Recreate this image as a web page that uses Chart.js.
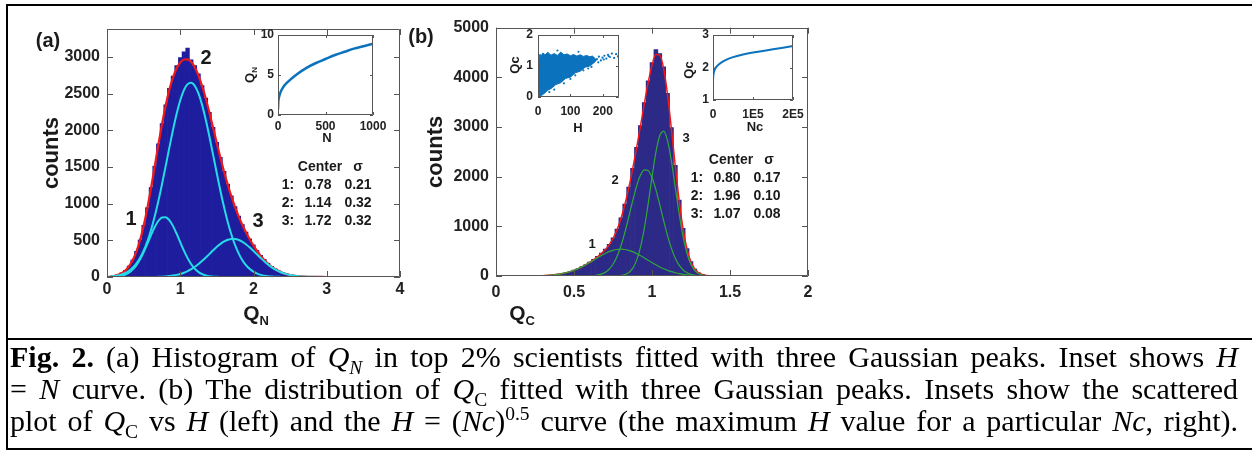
<!DOCTYPE html>
<html>
<head>
<meta charset="utf-8">
<script src="https://cdn.jsdelivr.net/npm/chart.js@4.4.1/dist/chart.umd.min.js"></script>
<style>
  body { margin: 0; background: #fff; }
  #page { position: relative; width: 1252px; height: 451px; overflow: hidden; background: #fff;
          font-family: "Liberation Sans", Arial, sans-serif; color: #1a1a1a; }
  canvas.layer { position: absolute; left: 0; top: 0; }
  .t { position: absolute; transform: translate(-50%, -50%); font-weight: bold; white-space: nowrap; line-height: 1; }
  .rot { transform: translate(-50%, -50%) rotate(-90deg); }
  .sb { font-size: 0.62em; position: relative; top: 0.35em; }
  .rule { position: absolute; background: #000; }
  .cap { position: absolute; left: 10px; width: 1228px; height: 32px; white-space: nowrap;
         font-family: "Liberation Serif", "Times New Roman", serif; font-size: 30px; line-height: 32px;
         text-align: justify; text-align-last: justify; color: #000; }
  .cap sub, .cap sup { font-size: 0.65em; line-height: 0; }
</style>
</head>
<body>
<div id="page">
  <canvas id="mainA" class="layer" width="1252" height="338"></canvas>
  <canvas id="mainB" class="layer" width="1252" height="338"></canvas>
  <canvas id="insetA" class="layer" width="1252" height="338"></canvas>
  <canvas id="insetB1" class="layer" width="1252" height="338"></canvas>
  <canvas id="insetB2" class="layer" width="1252" height="338"></canvas>

  <!-- panel letters -->
  <div class="t" style="left:48px;top:40px;font-size:20px;">(a)</div>
  <div class="t" style="left:421px;top:36px;font-size:20px;">(b)</div>

  <!-- peak numbers -->
  <div class="t" style="left:131px;top:218px;font-size:20px;">1</div>
  <div class="t" style="left:206px;top:57px;font-size:20px;">2</div>
  <div class="t" style="left:258px;top:220px;font-size:20px;">3</div>
  <div class="t" style="left:592px;top:243px;font-size:13px;">1</div>
  <div class="t" style="left:615px;top:179px;font-size:13px;">2</div>
  <div class="t" style="left:686px;top:137px;font-size:13px;">3</div>

  <!-- fit tables -->
  <div class="t" style="left:320px;top:166px;font-size:14px;">Center</div>
  <div class="t" style="left:358px;top:166px;font-size:14px;">σ</div>
  <div class="t" style="left:288px;top:184px;font-size:14px;">1:</div>
  <div class="t" style="left:318px;top:184px;font-size:14px;">0.78</div>
  <div class="t" style="left:358px;top:184px;font-size:14px;">0.21</div>
  <div class="t" style="left:288px;top:202px;font-size:14px;">2:</div>
  <div class="t" style="left:318px;top:202px;font-size:14px;">1.14</div>
  <div class="t" style="left:358px;top:202px;font-size:14px;">0.32</div>
  <div class="t" style="left:288px;top:220px;font-size:14px;">3:</div>
  <div class="t" style="left:318px;top:220px;font-size:14px;">1.72</div>
  <div class="t" style="left:358px;top:220px;font-size:14px;">0.32</div>

  <div class="t" style="left:731px;top:159px;font-size:14px;">Center</div>
  <div class="t" style="left:769px;top:159px;font-size:14px;">σ</div>
  <div class="t" style="left:697px;top:177px;font-size:14px;">1:</div>
  <div class="t" style="left:727px;top:177px;font-size:14px;">0.80</div>
  <div class="t" style="left:767px;top:177px;font-size:14px;">0.17</div>
  <div class="t" style="left:697px;top:195px;font-size:14px;">2:</div>
  <div class="t" style="left:727px;top:195px;font-size:14px;">1.96</div>
  <div class="t" style="left:767px;top:195px;font-size:14px;">0.10</div>
  <div class="t" style="left:697px;top:213px;font-size:14px;">3:</div>
  <div class="t" style="left:727px;top:213px;font-size:14px;">1.07</div>
  <div class="t" style="left:767px;top:213px;font-size:14px;">0.08</div>

  <!-- axis titles with subscripts -->
  <div class="t" style="left:256px;top:312px;font-size:21px;">Q<span class="sb">N</span></div>
  <div class="t" style="left:522px;top:312px;font-size:21px;">Q<span class="sb">C</span></div>
  <div class="t" style="left:327px;top:137px;font-size:13px;">N</div>
  <div class="t rot" style="left:250px;top:75px;font-size:13px;">Q<span class="sb">N</span></div>
  <div class="t" style="left:578px;top:127px;font-size:13px;">H</div>
  <div class="t rot" style="left:514px;top:65px;font-size:13px;">Qc</div>
  <div class="t" style="left:755px;top:126px;font-size:13px;">Nc</div>
  <div class="t rot" style="left:688px;top:70px;font-size:13px;">Qc</div>

  <!-- frame rules -->
  <div class="rule" style="left:6px;top:4px;width:1246px;height:2px;"></div>
  <div class="rule" style="left:6px;top:4px;width:2px;height:446px;"></div>
  <div class="rule" style="left:6px;top:338px;width:1246px;height:2px;"></div>
  <div class="rule" style="left:6px;top:448px;width:1246px;height:2px;"></div>

  <!-- caption -->
  <div class="cap" style="top:341px;"><b>Fig. 2.</b> (a) Histogram of <i>Q<sub>N</sub></i> in top 2% scientists fitted with three Gaussian peaks. Inset shows <i>H</i></div>
  <div class="cap" style="top:373px;">= <i>N</i> curve. (b) The distribution of <i>Q</i><sub>C</sub> fitted with three Gaussian peaks. Insets show the scattered</div>
  <div class="cap" style="top:405px;">plot of <i>Q</i><sub>C</sub> vs <i>H</i> (left) and the <i>H</i> = (<i>Nc</i>)<sup>0.5</sup> curve (the maximum <i>H</i> value for a particular <i>Nc</i>, right).</div>
</div>

<script>
// ---- panel (a): histogram of Q_N ----
const qnBins = [0.05, 0.10, 0.15, 0.20, 0.25, 0.30, 0.35, 0.40, 0.45, 0.50, 0.55, 0.60, 0.65, 0.70, 0.75, 0.80,
  0.85, 0.90, 0.95, 1.00, 1.05, 1.10, 1.15, 1.20, 1.25, 1.30, 1.35, 1.40, 1.45, 1.50, 1.55, 1.60, 1.65, 1.70,
  1.75, 1.80, 1.85, 1.90, 1.95, 2.00, 2.05, 2.10, 2.15, 2.20, 2.25, 2.30, 2.35, 2.40, 2.45, 2.50, 2.55, 2.60,
  2.65, 2.70, 2.75, 2.80, 2.90, 3.00];
const qnCounts = [12, 19, 33, 57, 92, 150, 232, 350, 505, 705, 945, 1220, 1510, 1815, 2090, 2345,
  2570, 2740, 2880, 2990, 3070, 3120, 2960, 2880, 2770, 2610, 2440, 2245, 2040, 1835, 1630, 1440, 1265, 1105,
  960, 830, 715, 612, 520, 438, 362, 295, 238, 188, 145, 110, 82, 60, 43, 30, 20, 14,
  9, 6, 4, 3, 2, 1];

// fitted curves, read at these Q_N positions
const qnFitX = [0.05, 0.10, 0.15, 0.20, 0.25, 0.30, 0.35, 0.40, 0.45, 0.50, 0.55, 0.60, 0.65, 0.70, 0.75, 0.80,
  0.85, 0.90, 0.95, 1.00, 1.05, 1.10, 1.15, 1.20, 1.25, 1.30, 1.35, 1.40, 1.45, 1.50, 1.55, 1.60, 1.65, 1.70,
  1.75, 1.80, 1.85, 1.90, 1.95, 2.00, 2.05, 2.10, 2.15, 2.20, 2.25, 2.30, 2.35, 2.40, 2.45, 2.50, 2.55, 2.60,
  2.65, 2.70, 2.75, 2.80, 2.90, 3.00, 3.35];
const qnPeak1 = [2, 4, 9, 18, 34, 60, 101, 159, 239, 337, 450, 568, 677, 763, 812, 816,
  776, 697, 591, 474, 359, 257, 174, 111, 67, 38, 21, 10, 5, 2, 1, 0, 0, 0,
  0, 0, 0, 0, 0, 0, 0, 0, 0, 0, 0, 0, 0, 0, 0, 0, 0, 0,
  0, 0, 0, 0, 0, 0, 0];
const qnPeak2 = [8, 13, 22, 35, 55, 85, 126, 183, 259, 359, 484, 638, 821, 1030, 1261, 1507,
  1758, 2000, 2222, 2408, 2547, 2629, 2649, 2604, 2498, 2339, 2137, 1905, 1658, 1407, 1166, 943, 744, 573,
  431, 316, 226, 158, 108, 72, 47, 29, 18, 11, 6, 4, 2, 1, 0, 0, 0, 0,
  0, 0, 0, 0, 0, 0, 0];
const qnPeak3 = [0, 0, 0, 0, 0, 0, 0, 0, 0, 0, 0, 0, 0, 3, 5, 8,
  13, 20, 29, 41, 58, 80, 106, 139, 177, 220, 267, 315, 364, 411, 452, 485, 508, 519,
  518, 504, 479, 444, 402, 355, 306, 257, 211, 169, 132, 101, 75, 54, 39, 27, 18, 12,
  8, 5, 3, 2, 1, 0, 0];
const qnFitSum = [10, 17, 31, 53, 89, 145, 227, 342, 498, 696, 934, 1206, 1498, 1796, 2078, 2331,
  2547, 2717, 2842, 2923, 2964, 2966, 2929, 2854, 2742, 2597, 2425, 2230, 2027, 1820, 1619, 1428, 1252, 1092,
  949, 820, 705, 602, 510, 427, 353, 286, 229, 180, 138, 105, 77, 55, 39, 27, 18, 12,
  8, 5, 3, 2, 1, 0, 0];
const qnTicks = [0, 1, 2, 3, 4];
const countTicksA = [0, 500, 1000, 1500, 2000, 2500, 3000];

// inset (a): Q_N against N
const insetN = [0, 3, 10, 25, 50, 100, 200, 300, 400, 500, 600, 700, 800, 900, 1000];
const insetQN = [0.7, 1.6, 2.2, 2.8, 3.4, 4.1, 5.1, 5.9, 6.5, 7.0, 7.5, 7.9, 8.3, 8.6, 8.9];
const nTicks = [0, 500, 1000];
const qnInsetTicks = [0, 5, 10];

// ---- panel (b): distribution of Q_C ----
const qcBins = [0.200, 0.225, 0.250, 0.275, 0.300, 0.325, 0.350, 0.375, 0.400, 0.425, 0.450, 0.475, 0.500,
  0.525, 0.550, 0.575, 0.600, 0.625, 0.650, 0.675, 0.700, 0.725, 0.750, 0.775, 0.800, 0.825, 0.850, 0.875,
  0.900, 0.925, 0.950, 0.975, 1.000, 1.025, 1.050, 1.075, 1.100, 1.125, 1.150, 1.175, 1.200, 1.225, 1.250,
  1.275, 1.300, 1.325, 1.350, 1.375, 1.400];
const qcCounts = [2, 3, 4, 6, 9, 13, 19, 27, 37, 50, 68, 90, 118,
  150, 188, 232, 280, 335, 395, 462, 540, 640, 770, 945, 1170, 1450, 1790, 2170,
  2590, 3030, 3490, 3930, 4300, 4560, 4480, 4210, 3680, 2990, 2230, 1530, 960, 550, 290,
  140, 64, 28, 11, 4, 1];

const qcFitX = [0, 0.1, 0.2, 0.3, 0.4, 0.5, 0.55, 0.6, 0.65, 0.7, 0.725, 0.75, 0.775, 0.8, 0.825, 0.85,
  0.875, 0.9, 0.925, 0.95, 0.975, 1.0, 1.025, 1.05, 1.075, 1.1, 1.125, 1.15, 1.175, 1.2, 1.225, 1.25,
  1.275, 1.3, 1.35, 1.4, 1.5, 1.55];
const qcPeak1 = [0, 0, 1, 7, 34, 114, 183, 270, 366, 454, 490, 517, 534, 540, 534, 517,
  490, 454, 412, 366, 318, 270, 225, 183, 146, 114, 87, 65, 47, 34, 24, 16,
  11, 7, 3, 1, 0, 0];
const qcPeak2 = [0, 0, 0, 0, 0, 0, 0, 3, 18, 73, 136, 237, 388, 598, 864, 1174,
  1498, 1796, 2022, 2139, 2126, 1985, 1741, 1434, 1110, 807, 551, 354, 213, 121, 64, 32,
  15, 7, 1, 0, 0, 0];
const qcPeak3 = [0, 0, 0, 0, 0, 0, 0, 0, 0, 0, 0, 1, 3, 10, 27, 67,
  150, 305, 565, 948, 1443, 1991, 2493, 2830, 2914, 2722, 2305, 1771, 1234, 780, 447, 232,
  110, 47, 6, 0, 0, 0];
const qcFitSum = [0, 0, 1, 7, 34, 114, 183, 273, 384, 527, 626, 755, 925, 1148, 1425, 1758,
  2138, 2555, 2999, 3453, 3887, 4246, 4459, 4447, 4170, 3643, 2943, 2190, 1494, 935, 535, 280,
  136, 61, 10, 1, 0, 0];
const qcTicks = [0, 0.5, 1, 1.5, 2];
const countTicksB = [0, 1000, 2000, 3000, 4000, 5000];

// inset (b, left): Q_C against H, dense cloud outline plus stray points
const cloudTopH = [1, 2, 3, 6, 10, 15, 22, 30, 40, 50, 60, 70, 80, 90, 100, 110, 120, 130, 140, 150, 160, 168, 175, 180];
const cloudTopQ = [0.1, 0.8, 1.25, 1.38, 1.33, 1.42, 1.36, 1.44, 1.35, 1.40, 1.34, 1.45, 1.36, 1.39, 1.33, 1.37,
  1.32, 1.36, 1.31, 1.34, 1.30, 1.32, 1.26, 1.18];
const cloudLowH = [1, 5, 12, 20, 30, 40, 55, 70, 85, 100, 115, 130, 145, 160, 172, 180];
const cloudLowQ = [0.1, 0.01, 0.06, 0.12, 0.22, 0.27, 0.40, 0.46, 0.60, 0.64, 0.78, 0.83, 0.96, 1.0, 1.1, 1.18];
const strayH = [182, 188, 194, 199, 205, 211, 216, 222, 228, 235, 241, 247, 250, 186, 203, 218, 60, 125, 100, 80,
  140, 155, 35, 50, 115, 165];
const strayQ = [1.22, 1.30, 1.18, 1.27, 1.33, 1.24, 1.36, 1.29, 1.40, 1.26, 1.38, 1.31, 1.20, 1.12, 1.21, 1.32,
  1.50, 1.46, 0.58, 0.44, 0.86, 0.92, 0.16, 0.24, 0.70, 0.97];
const hTicks = [0, 100, 200];
const qcInsetTicks = [0, 1, 2];

// inset (b, right): Q_C against Nc
const insetNc = [0, 0, 500, 2000, 6000, 15000, 30000, 50000, 75000, 100000, 150000, 200000];
const insetQc = [1.0, 1.55, 1.72, 1.85, 1.98, 2.10, 2.22, 2.32, 2.40, 2.46, 2.56, 2.66];
const ncTicks = [0, 100000, 200000];
const ncTickLabels = ['0', '1E5', '2E5'];
const qc2Ticks = [1, 2, 3];

// ---- drawing ----
const SANS = '"Liberation Sans", Arial, sans-serif';
const PAGE_W = 1252, LAYER_H = 338;
const NAVY_A = '#1d1d9e', NAVY_B = '#2c2a86', RED = '#f01818', CYAN = '#26dbe8', GREEN = '#2fa83a', MBLUE = '#0b72bd';

function toXY(xs, ys) {
  return xs.map((x, i) => ({ x: x, y: ys[i] }));
}

function makeScale(o) {
  return {
    type: 'linear',
    min: o.min,
    max: o.max,
    offset: false,
    grid: { display: false, drawTicks: false, offset: false },
    border: { display: false },
    afterBuildTicks: s => { s.ticks = o.ticks.map(v => ({ value: v })); },
    afterFit: s => { if (o.axis === 'x') s.height = o.fit; else s.width = o.fit; },
    ticks: {
      autoSkip: false, maxRotation: 0, minRotation: 0,
      padding: o.pad,
      color: '#222',
      font: { family: SANS, size: o.size, weight: 'bold' },
      callback: (v, i) => (o.labels ? o.labels[i] : String(v))
    },
    title: o.title
      ? { display: true, text: o.title, color: '#1a1a1a',
          font: { family: SANS, size: 22, weight: 'bold' }, padding: { top: o.titlePad, bottom: 0 } }
      : { display: false }
  };
}

// MATLAB style box with inward ticks on all four sides
function framePlugin(tickLen, whiteBg) {
  return {
    id: 'frame',
    beforeDraw(chart) {
      if (!whiteBg) return;
      const a = chart.chartArea, ctx = chart.ctx;
      ctx.save();
      ctx.fillStyle = '#fff';
      ctx.fillRect(a.left, a.top, a.right - a.left, a.bottom - a.top);
      ctx.restore();
    },
    afterDatasetsDraw(chart) {
      const a = chart.chartArea, ctx = chart.ctx, sx = chart.scales.x, sy = chart.scales.y;
      ctx.save();
      ctx.strokeStyle = '#555';
      ctx.lineWidth = 1;
      ctx.beginPath();
      ctx.rect(Math.round(a.left) + 0.5, Math.round(a.top) + 0.5,
        Math.round(a.right - a.left) - 1, Math.round(a.bottom - a.top) - 1);
      sx.ticks.forEach(t => {
        const p = Math.round(sx.getPixelForValue(t.value)) + 0.5;
        ctx.moveTo(p, a.bottom); ctx.lineTo(p, a.bottom - tickLen);
        ctx.moveTo(p, a.top); ctx.lineTo(p, a.top + tickLen);
      });
      sy.ticks.forEach(t => {
        const p = Math.round(sy.getPixelForValue(t.value)) + 0.5;
        ctx.moveTo(a.left, p); ctx.lineTo(a.left + tickLen, p);
        ctx.moveTo(a.right, p); ctx.lineTo(a.right - tickLen, p);
      });
      ctx.stroke();
      ctx.restore();
    }
  };
}

function baseOptions(box, yW, xH, scales) {
  return {
    responsive: false,
    animation: false,
    events: [],
    layout: { padding: { left: box.left - yW, top: box.top, right: PAGE_W - box.right, bottom: LAYER_H - box.bottom - xH } },
    plugins: { legend: { display: false }, tooltip: { enabled: false } },
    scales: scales
  };
}

function curve(xs, ys, color, width, order) {
  return { type: 'line', data: toXY(xs, ys), borderColor: color, borderWidth: width, pointRadius: 0,
           fill: false, cubicInterpolationMode: 'monotone', order: order };
}

// panel (a)
const boxA = { left: 107, top: 29, right: 400, bottom: 277 };
new Chart(document.getElementById('mainA'), {
  type: 'bar',
  data: {
    datasets: [
      curve(qnFitX, qnPeak1, CYAN, 2, 1),
      curve(qnFitX, qnPeak2, CYAN, 2, 1),
      curve(qnFitX, qnPeak3, CYAN, 2, 1),
      curve(qnFitX, qnFitSum, RED, 2.2, 2),
      { type: 'bar', data: toXY(qnBins, qnCounts), backgroundColor: NAVY_A, borderWidth: 0,
        barPercentage: 1, categoryPercentage: 1, order: 3 }
    ]
  },
  options: baseOptions(boxA, 80, 30, {
    x: makeScale({ axis: 'x', min: 0, max: 4, ticks: qnTicks, size: 16, pad: 3, fit: 30 }),
    y: makeScale({ axis: 'y', min: 0, max: 3380, ticks: countTicksA, size: 16, pad: 7, fit: 80,
                   title: 'counts', titlePad: 12 })
  }),
  plugins: [framePlugin(6, false)]
});

// panel (b)
const boxB = { left: 496, top: 27.7, right: 808, bottom: 276 };
new Chart(document.getElementById('mainB'), {
  type: 'bar',
  data: {
    datasets: [
      curve(qcFitX, qcPeak1, GREEN, 1.2, 1),
      curve(qcFitX, qcPeak2, GREEN, 1.2, 1),
      curve(qcFitX, qcPeak3, GREEN, 1.2, 1),
      curve(qcFitX, qcFitSum, RED, 1.5, 2),
      { type: 'bar', data: toXY(qcBins, qcCounts), backgroundColor: NAVY_B, borderWidth: 0,
        barPercentage: 1, categoryPercentage: 1, order: 3 }
    ]
  },
  options: baseOptions(boxB, 80, 30, {
    x: makeScale({ axis: 'x', min: 0, max: 2, ticks: qcTicks, size: 16, pad: 7, fit: 30 }),
    y: makeScale({ axis: 'y', min: 0, max: 5000, ticks: countTicksB, size: 16, pad: 7, fit: 80,
                   title: 'counts', titlePad: 7 })
  }),
  plugins: [framePlugin(6, false)]
});

// inset (a)
const boxIA = { left: 278, top: 35, right: 373, bottom: 115 };
new Chart(document.getElementById('insetA'), {
  type: 'line',
  data: { datasets: [curve(insetN, insetQN, MBLUE, 2.5, 1)] },
  options: baseOptions(boxIA, 30, 20, {
    x: makeScale({ axis: 'x', min: 0, max: 1000, ticks: nTicks, size: 12, pad: 4, fit: 20 }),
    y: makeScale({ axis: 'y', min: 0, max: 10, ticks: qnInsetTicks, size: 12, pad: 4, fit: 30 })
  }),
  plugins: [framePlugin(3, true)]
});

// inset (b, left) scatter cloud
const boxIB1 = { left: 538, top: 35, right: 619, bottom: 97 };
new Chart(document.getElementById('insetB1'), {
  type: 'scatter',
  data: {
    datasets: [
      { type: 'line', data: toXY(cloudTopH, cloudTopQ), borderColor: MBLUE, borderWidth: 1, pointRadius: 0,
        fill: false, tension: 0, order: 2 },
      { type: 'line', data: toXY(cloudLowH, cloudLowQ), borderColor: MBLUE, borderWidth: 1, pointRadius: 0,
        backgroundColor: MBLUE, fill: '-1', tension: 0, order: 2 },
      { type: 'scatter', data: toXY(strayH, strayQ), backgroundColor: MBLUE, borderWidth: 0, pointRadius: 1.1, order: 1 }
    ]
  },
  options: baseOptions(boxIB1, 30, 20, {
    x: makeScale({ axis: 'x', min: 0, max: 250, ticks: hTicks, size: 12, pad: 7, fit: 20 }),
    y: makeScale({ axis: 'y', min: 0, max: 2, ticks: qcInsetTicks, size: 12, pad: 5, fit: 30 })
  }),
  plugins: [framePlugin(3, true)]
});

// inset (b, right)
const boxIB2 = { left: 713, top: 35, right: 793, bottom: 100 };
new Chart(document.getElementById('insetB2'), {
  type: 'line',
  data: { datasets: [{ type: 'line', data: toXY(insetNc, insetQc), borderColor: MBLUE, borderWidth: 2,
                       pointRadius: 0, fill: false, tension: 0.25 }] },
  options: baseOptions(boxIB2, 30, 20, {
    x: makeScale({ axis: 'x', min: 0, max: 200000, ticks: ncTicks, labels: ncTickLabels, size: 12, pad: 7, fit: 20 }),
    y: makeScale({ axis: 'y', min: 1, max: 3, ticks: qc2Ticks, size: 12, pad: 4, fit: 30 })
  }),
  plugins: [framePlugin(3, true)]
});
</script>
</body>
</html>
